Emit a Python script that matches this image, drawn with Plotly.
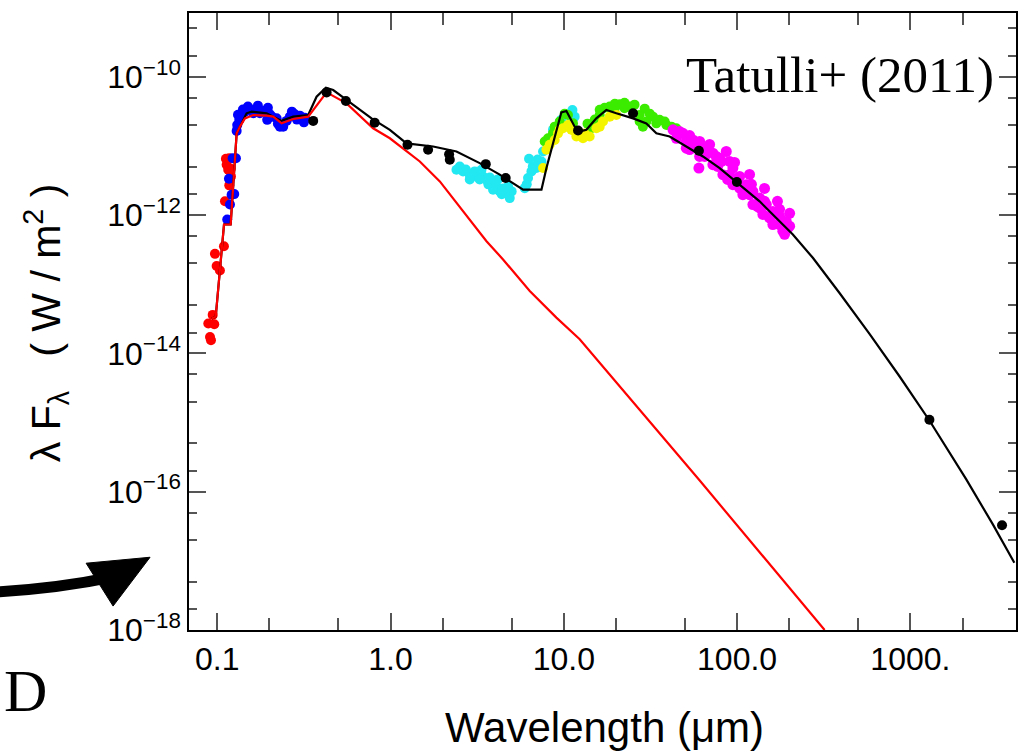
import math
import plotly.graph_objects as go

# ---------------- data (wavelength in micron, lambda*F_lambda in W/m^2) -------------
red_model_wl = [0.093, 0.098, 0.1094, 0.1195, 0.1294, 0.1352, 0.1445, 0.1613, 0.1927, 0.2105,
                0.235, 0.2744, 0.3348, 0.3743, 0.4276, 0.5574, 0.7936, 0.991, 1.476, 1.925,
                2.995, 3.58, 4.46, 6.36, 9.06, 12.35, 60.7, 320.0]
red_model_f = [3.2e-14, 3.4e-14, 7.3e-13, 7.3e-13, 1.52e-11, 1.9e-11, 2.5e-11, 2.8e-11, 2.74e-11, 2.65e-11,
               2.12e-11, 2.45e-11, 2.65e-11, 3.9e-11, 5.95e-11, 4.12e-11, 1.8e-11, 1.29e-11, 5.96e-12, 3.07e-12,
               7.3e-13, 4.19e-13, 2.28e-13, 7.98e-14, 3.29e-14, 1.6e-14, 1.46e-16, 1.0e-18]

black_model_wl = [0.093, 0.098, 0.1094, 0.1195, 0.1294, 0.1352, 0.1477, 0.1579, 0.1927, 0.235,
                  0.2744, 0.3348, 0.3743, 0.4235, 0.4667, 0.5574, 0.777, 0.991, 1.237, 1.761,
                  2.402, 3.27, 4.27, 5.82, 7.43, 7.94, 9.68, 10.35, 10.8, 11.55,
                  12.35, 13.5, 15.4, 17.6, 20.1, 25.1, 29.95, 34.2, 40.8, 50.9,
                  63.5, 79.3, 103.4, 134.9, 168.3, 209.8, 273.6, 390.0, 581.0, 865.0,
                  1288.0, 2098.0, 2987.0, 3981.0]
black_model_f = [3.2e-14, 3.4e-14, 7.3e-13, 7.3e-13, 1.52e-11, 1.9e-11, 2.96e-11, 3.13e-11, 2.96e-11, 2.3e-11,
                 2.65e-11, 2.8e-11, 5.15e-11, 6.94e-11, 6.43e-11, 4.62e-11, 2.5e-11, 1.71e-11, 1.09e-11, 9.8e-12,
                 8.3e-12, 5.64e-12, 3.84e-12, 2.33e-12, 2.33e-12, 4.78e-12, 3.06e-11, 3.2e-11, 2.65e-11, 1.9e-11,
                 1.62e-11, 1.71e-11, 2.5e-11, 3.31e-11, 2.96e-11, 2.5e-11, 2.12e-11, 1.52e-11, 1.37e-11, 9.8e-12,
                 7.04e-12, 4.78e-12, 2.75e-12, 1.58e-12, 9.08e-13, 5.23e-13, 2.41e-13, 7.46e-14, 1.91e-14, 4.67e-15,
                 1.07e-15, 1.52e-16, 3.39e-17, 9.4e-18]

phot_wl = [0.3578, 0.4276, 0.5523, 0.81, 1.253, 1.647, 2.178, 2.198, 3.545, 4.62,
           12.08, 25.1, 60.2, 99.7, 1288.0, 3381.0]
phot_f = [2.3e-11, 5.94e-11, 4.47e-11, 2.17e-11, 1.04e-11, 8.79e-12, 7.59e-12, 6.3e-12, 5.45e-12, 3.43e-12,
          1.67e-11, 2.96e-11, 8.5e-12, 3.0e-12, 1.1e-15, 3.28e-17]

red_wl = [0.092, 0.0908, 0.0888, 0.0961, 0.0941, 0.0992, 0.1036, 0.097, 0.1093, 0.1108,
          0.1173, 0.1157, 0.1133, 0.1173, 0.1122, 0.1195, 0.12]
red_f = [1.55e-14, 1.73e-14, 2.7e-14, 2.64e-14, 3.6e-14, 1.83e-13, 1.58e-13, 2.75e-13, 3.55e-13, 1.58e-12,
         2.69e-12, 4.53e-12, 5.35e-12, 6.65e-12, 6.52e-12, 4.69e-12, 3.6e-12]

blue_wl = [0.1142, 0.1184, 0.121, 0.1253, 0.1168, 0.1227, 0.1282, 0.1294, 0.1304, 0.134,
           0.1383, 0.1444, 0.1543, 0.1687, 0.1842, 0.2013, 0.1942, 0.2201, 0.23, 0.2402,
           0.2513, 0.2626, 0.2805, 0.2999, 0.3162, 0.3067, 0.1613, 0.1763, 0.1352,
           0.1406, 0.1503, 0.1716, 0.196, 0.2068, 0.2239, 0.2696, 0.2884, 0.3205, 0.1317]
blue_f = [8.6e-13, 1.42e-12, 1.97e-12, 2.01e-12, 3.36e-12, 6.65e-12, 6.65e-12, 1.65e-11, 2.01e-11, 2.38e-11,
          2.81e-11, 3.13e-11, 3.38e-11, 3.43e-11, 3.21e-11, 2.86e-11, 2.38e-11, 2.51e-11, 1.9e-11, 1.9e-11,
          2.3e-11, 2.65e-11, 2.86e-11, 2.74e-11, 2.19e-11, 2.51e-11, 2.96e-11, 2.96e-11, 2.65e-11,
          3.35e-11, 3.7e-11, 3.82e-11, 3.57e-11, 2.65e-11, 2.1e-11, 3.13e-11, 2.4e-11, 2.56e-11, 2.83e-11]

cyan_wl = [2.402, 2.622, 2.867, 3.133, 3.349, 3.42, 3.578, 3.823, 4.088, 4.27,
           4.562, 4.876, 3.906, 4.767, 5.951, 6.217, 6.3, 6.504, 6.95, 7.43,
           7.59, 7.94, 8.66, 9.68, 11.21, 11.55, 2.867, 3.67, 4.385,
           2.51, 2.72, 3.06, 3.27, 3.74, 4.0, 4.16, 4.45, 5.0, 6.11, 6.62, 7.06]
cyan_f = [4.53e-12, 4.28e-12, 3.84e-12, 3.62e-12, 4.53e-12, 3.62e-12, 3.25e-12, 2.9e-12, 2.6e-12, 2.2e-12,
          2.08e-12, 1.76e-12, 2.33e-12, 2.6e-12, 2.45e-12, 3.43e-12, 6.52e-12, 4.28e-12, 4.78e-12, 5.96e-12,
          8.3e-12, 1.16e-11, 1.71e-11, 2.38e-11, 3.31e-11, 2.65e-11, 3.28e-12, 2.78e-12, 2.0e-12,
          5.05e-12, 4.57e-12, 4.28e-12, 3.28e-12, 3.5e-12, 2.87e-12, 3.28e-12, 2.43e-12, 2.2e-12, 2.78e-12,
          5.05e-12, 6.37e-12]

yellow_wl = [7.59, 7.94, 8.29, 8.86, 9.26, 9.9, 10.57, 11.06, 11.82, 12.9,
             14.1, 15.42, 16.83, 18.4, 20.1, 9.47, 13.2, 16.11, 11.55]
yellow_f = [4.78e-12, 8.79e-12, 1.04e-11, 1.22e-11, 1.52e-11, 1.8e-11, 2.01e-11, 1.71e-11, 1.37e-11, 1.29e-11,
            1.37e-11, 1.8e-11, 2.25e-11, 2.65e-11, 2.8e-11, 1.72e-11, 1.51e-11, 1.9e-11, 1.62e-11]

green_wl = [7.76, 8.11, 8.66, 9.47, 10.57, 11.3, 12.08, 12.9, 14.43, 16.11,
            18.4, 21.0, 24.0, 27.4, 28.6, 32.7, 35.7, 39.1, 44.6, 34.2,
            29.95, 19.7, 22.4, 16.11, 17.2, 19.7, 22.4, 25.6, 29.3, 31.3,
            38.2, 41.8, 15.1, 27.4, 8.86, 10.12, 13.7]
green_f = [1.16e-11, 1.29e-11, 1.52e-11, 2.25e-11, 2.8e-11, 2.12e-11, 1.52e-11, 1.45e-11, 1.8e-11, 2.8e-11,
           3.7e-11, 3.99e-11, 3.7e-11, 2.8e-11, 1.9e-11, 2.65e-11, 2.38e-11, 2.01e-11, 1.8e-11, 2.12e-11,
           2.25e-11, 3.5e-11, 3.5e-11, 3.34e-11, 3.57e-11, 4.08e-11, 4.22e-11, 3.95e-11, 3.46e-11, 2.93e-11,
           2.25e-11, 1.9e-11, 2.4e-11, 2.25e-11, 1.9e-11, 2.93e-11, 2.1e-11]

magenta_wl = [42.7, 44.6, 48.7, 50.9, 55.6, 60.8, 66.4, 72.5, 79.3, 86.6,
              90.5, 94.6, 103.4, 113.0, 123.4, 134.9, 147.4, 160.9, 175.8, 192.2,
              196.3, 183.7, 160.9, 140.9, 123.4, 108.0, 94.6, 82.8, 72.5, 60.8,
              60.2, 50.9, 63.5, 75.9, 90.5, 103.4, 134.9, 154.0, 175.8, 118.0,
              46.6, 53.2, 69.4, 96.7, 118.0, 144.0, 171.0, 201.0,
              53.2, 65.0, 77.2, 88.2, 110.5, 131.0, 154.0, 201.0, 188.0,
              56.9, 81.4, 100.7, 121.0, 144.0, 175.8]
magenta_f = [1.71e-11, 1.29e-11, 1.52e-11, 1.16e-11, 1.22e-11, 1.16e-11, 9.27e-12, 7.85e-12, 6.65e-12, 8.3e-12,
             5.96e-12, 4.78e-12, 3.62e-12, 2.75e-12, 2.2e-12, 1.76e-12, 1.42e-12, 1.13e-12, 9.6e-13, 8.1e-13,
             6.5e-13, 5.85e-13, 7.3e-13, 1.02e-12, 1.42e-12, 1.97e-12, 2.75e-12, 3.84e-12, 5.35e-12, 7.04e-12,
             4.78e-12, 9.27e-12, 8.3e-12, 7.04e-12, 3.84e-12, 2.45e-12, 1.27e-12, 9.08e-13, 7.3e-13, 1.97e-12,
             1.61e-11, 1.41e-11, 1.05e-11, 5.77e-12, 3.87e-12, 2.43e-12, 1.58e-12, 1.06e-12,
             8.87e-12, 7.04e-12, 5.05e-12, 3.28e-12, 2.06e-12, 1.34e-12, 9.3e-13, 6.9e-13, 5.28e-13,
             1.05e-11, 5.96e-12, 3.39e-12, 2.78e-12, 1.58e-12, 1.21e-12]

# axis ticks
x_major = [0.1, 1, 10, 100, 1000]
x_major_text = ["0.1", "1.0", "10.0", "100.0", "1000."]
x_mid_mult = [2, 5]
x_short_mult = [1.5]
y_label_exp = [-18, -16, -14, -12, -10]
y_odd_exp = [-17, -15, -13, -11, -9]
y_minor_mult = [2, 5]

X_RANGE = [0.0687, 4070.0]
Y_RANGE = [1e-18, 10 ** -9.078]

# ---------------- figure -------------
W, H = 1029, 755
L, R, T, B = 189, 12, 11, 125
PW, PH = W - L - R, H - T - B


def px(x):
    return (x - L) / PW


def py(y):
    return (H - B - y) / PH


fig = go.Figure()
cloud = dict(mode="markers", showlegend=False, hoverinfo="skip")
msize = 10
fig.add_trace(go.Scatter(x=cyan_wl, y=cyan_f, **cloud, marker=dict(size=msize, color="#22e8f2")))
fig.add_trace(go.Scatter(x=green_wl, y=green_f, **cloud, marker=dict(size=msize, color="#3cec00")))
fig.add_trace(go.Scatter(x=yellow_wl, y=yellow_f, **cloud, marker=dict(size=msize, color="#f4f400")))
fig.add_trace(go.Scatter(x=magenta_wl, y=magenta_f, **cloud, marker=dict(size=msize + 1, color="#ff00ff")))
fig.add_trace(go.Scatter(x=red_wl, y=red_f, **cloud, marker=dict(size=msize, color="#ff0000")))
fig.add_trace(go.Scatter(x=blue_wl, y=blue_f, **cloud, marker=dict(size=msize, color="#0000ff")))
fig.add_trace(go.Scatter(x=black_model_wl, y=black_model_f, mode="lines",
                         line=dict(color="black", width=2.2), showlegend=False))
fig.add_trace(go.Scatter(x=red_model_wl, y=red_model_f, mode="lines",
                         line=dict(color="#ff0000", width=2.2), showlegend=False))
fig.add_trace(go.Scatter(x=phot_wl, y=phot_f, mode="markers",
                         marker=dict(size=10, color="black"), showlegend=False))

x_mid = [m * 10.0 ** e for e in range(-2, 4) for m in x_mid_mult]
x_short = [m * 10.0 ** e for e in range(-2, 4) for m in x_short_mult]
y_minor = [m * 10.0 ** e for e in range(-19, -8) for m in y_minor_mult]

tick_col = "#555555"
xr = [math.log10(X_RANGE[0]), math.log10(X_RANGE[1])]
yr = [math.log10(Y_RANGE[0]), math.log10(Y_RANGE[1])]
sans = "Liberation Sans, Arial, sans-serif"
serif = "Liberation Serif, Times New Roman, serif"
tickfont = dict(family=sans, size=32, color="black")

fig.update_layout(
    width=W, height=H,
    margin=dict(l=L, r=R, t=T, b=B),
    paper_bgcolor="white", plot_bgcolor="white",
    xaxis=dict(type="log", range=xr, tickvals=x_major, ticktext=x_major_text,
               ticks="inside", ticklen=17, tickwidth=1.5, tickcolor=tick_col,
               showline=True, linecolor="black", linewidth=1.5, mirror="ticks",
               showgrid=False, zeroline=False, tickfont=tickfont,
               minor=dict(tickvals=x_mid, ticks="inside", ticklen=12, tickwidth=1.5,
                          tickcolor=tick_col, showgrid=False)),
    xaxis2=dict(type="log", range=xr, overlaying="x", anchor="y", side="bottom",
                tickvals=x_short, ticks="inside", ticklen=8, tickwidth=1.5, tickcolor=tick_col,
                showticklabels=False, showline=False, mirror="ticks", showgrid=False, zeroline=False),
    yaxis=dict(type="log", range=yr,
               tickvals=[10.0 ** e for e in y_label_exp],
               ticktext=["10<sup>\u2212%d</sup>" % (-e) for e in y_label_exp],
               ticks="inside", ticklen=17, tickwidth=1.5, tickcolor=tick_col,
               showline=True, linecolor="black", linewidth=1.5, mirror="ticks",
               showgrid=False, zeroline=False, tickfont=tickfont,
               minor=dict(tickvals=y_minor, ticks="inside", ticklen=8, tickwidth=1.5,
                          tickcolor=tick_col, showgrid=False)),
    yaxis2=dict(type="log", range=yr, overlaying="y", anchor="x", side="left",
                tickvals=[10.0 ** e for e in y_odd_exp], ticks="inside", ticklen=12,
                tickwidth=1.5, tickcolor=tick_col, showticklabels=False, showline=False,
                mirror="ticks", showgrid=False, zeroline=False),
)

fig.add_annotation(x=px(605), y=py(728), xref="paper", yref="paper", showarrow=False,
                   xanchor="center", yanchor="middle",
                   text="Wavelength (\u03bcm)", font=dict(family=sans, size=42, color="black"))
fig.add_annotation(x=px(46), y=py(322), xref="paper", yref="paper", showarrow=False, textangle=-90,
                   xanchor="center", yanchor="middle",
                   text="\u03bb F<sub>\u03bb</sub>\u00a0\u00a0\u00a0( W / m<sup>2</sup> )",
                   font=dict(family=sans, size=41, color="black"))
fig.add_annotation(x=px(997), y=py(73), xref="paper", yref="paper", showarrow=False,
                   xanchor="right", yanchor="middle", text="Tatulli+ (2011)",
                   font=dict(family=serif, size=51, color="black"))
fig.add_annotation(x=px(25), y=py(691), xref="paper", yref="paper", showarrow=False,
                   xanchor="center", yanchor="middle",
                   text="D", font=dict(family=serif, size=60, color="black"))

# curved arrow from the surrounding slide
fig.add_shape(type="path", xref="paper", yref="paper",
              path="M %f %f Q %f %f %f %f" % (px(-5), py(592), px(60), py(588), px(112), py(577)),
              line=dict(color="black", width=11))
fig.add_shape(type="path", xref="paper", yref="paper",
              path="M %f %f L %f %f L %f %f Z" % (px(86), py(563), px(150), py(557), px(113), py(606)),
              fillcolor="black", line=dict(color="black", width=1))

fig.write_html("out.html")
